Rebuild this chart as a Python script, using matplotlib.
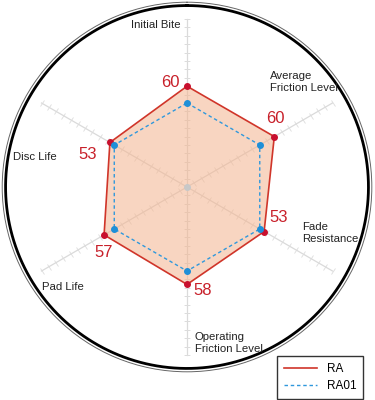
import numpy as np
import matplotlib
matplotlib.use("Agg")
import matplotlib.pyplot as plt
from matplotlib.markers import MarkerStyle
from matplotlib.transforms import Affine2D

plt.rcParams['font.family'] = ['Liberation Sans', 'DejaVu Sans']

# === data ===
categories = ["Initial Bite", "Average\nFriction Level", "Fade\nResistance",
              "Operating\nFriction Level", "Pad Life", "Disc Life"]
ra = [60, 60, 53, 58, 57, 53]
ra01 = [50, 50, 50, 50, 50, 50]
scale_ticks = list(range(5, 101, 5))

# layout of text (theta deg clockwise from top, radius in data units)
cat_pos = [(-2.1, 96.5, 'right'), (38.3, 79.7, 'left'), (112.0, 73.8, 'left'),
           (177.1, 93.0, 'left'), (-124.6, 104.8, 'left'), (-80.2, 105.1, 'left')]
val_pos = [(-3.8, 62.6, 'right'), (52.0, 66.6, 'center'), (108.6, 57.8, 'center'),
           (171.3, 62.6, 'center'), (-128.5, 63.1, 'center'), (-71.6, 62.1, 'center')]

red = '#d0352a'
blue = '#2f98dc'

fig = plt.figure(figsize=(3.75, 4), dpi=100)
ax = fig.add_axes([0.0059, 0.0705, 0.9856, 0.924], projection='polar')
ax.set_theta_zero_location('N')
ax.set_theta_direction(-1)
ax.set_ylim(0, 110)
ax.grid(False)
ax.set_xticks([])
ax.set_yticks([])
ax.spines['polar'].set_color('#666666')
ax.spines['polar'].set_linewidth(0.7)

n = len(categories)
angles = np.arange(n) * 2 * np.pi / n

# 外圈粗线
circ = np.linspace(0, 2 * np.pi, 400)
ax.plot(circ, np.full_like(circ, 108.0), color='black', lw=2.0, zorder=1)

# 轴线 + 刻度
for i, a in enumerate(angles):
    ax.plot([a, a], [0, 100], color='#dadada', lw=0.9, zorder=2)
    m = MarkerStyle('_', transform=Affine2D().rotate_deg(-np.degrees(a)))
    ax.plot(np.full(len(scale_ticks), a), scale_ticks, ls='none', marker=m,
            markersize=5, markeredgecolor='#dcdcdc', markeredgewidth=0.6, zorder=2)
ax.plot([0], [0], 'o', color='#c8c8c8', markersize=4, zorder=5)

# 填充 + 折线
ang_c = np.append(angles, angles[0])
ra_c = np.append(ra, ra[0])
ra01_c = np.append(ra01, ra01[0])
ax.fill(ang_c, ra_c, color='#f4b48f', alpha=0.55, lw=0, zorder=3)
ax.plot(ang_c, ra_c, color=red, lw=1.2, label='RA', zorder=4)
ax.plot(angles, ra, 'o', color='#c8102e', markersize=4, zorder=5)
ax.plot(ang_c, ra01_c, color=blue, lw=1.0, ls=(0, (2.5, 2)), label='RA01', zorder=4)
ax.plot(angles, ra01, 'o', color='#1e8fd8', markersize=4, zorder=5)

# 文字
for lab, (t, r, ha) in zip(categories, cat_pos):
    ax.text(np.radians(t), r, lab, ha=ha, va='center', fontsize=8.2,
            color='#222222', linespacing=1.25, zorder=6)
for v, (t, r, ha) in zip(ra, val_pos):
    ax.text(np.radians(t), r, str(v), ha=ha, va='center', fontsize=12,
            color='#c8202a', zorder=6)

leg = fig.legend(loc='lower left', bbox_to_anchor=(0.739, 0.0025, 0.229, 0.1025),
                 mode='expand', borderaxespad=0, fontsize=8.5, frameon=True,
                 fancybox=False, handlelength=2.8, borderpad=0.6, labelspacing=0.4)
leg.get_frame().set_edgecolor('#333333')
leg.get_frame().set_linewidth(1.0)
leg.get_frame().set_alpha(1)

plt.savefig("out.png", dpi=100)
